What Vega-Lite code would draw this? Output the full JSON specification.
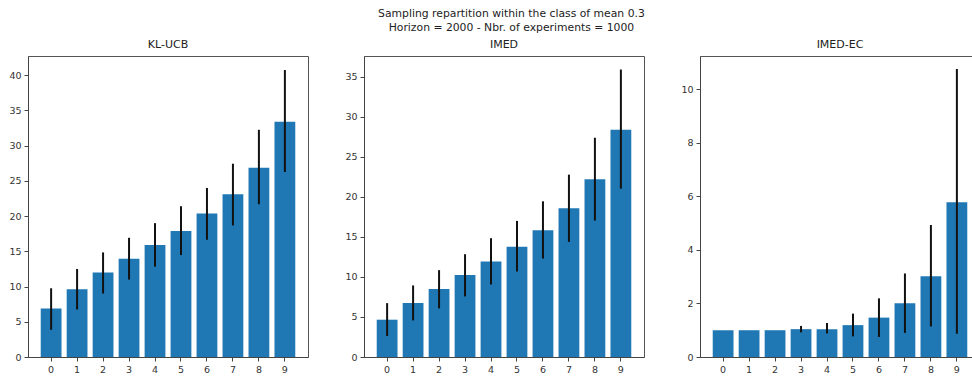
{
  "$schema": "https://vega.github.io/schema/vega-lite/v6.json",
  "padding": {"left": 8, "top": 8, "right": 0, "bottom": 5},
  "background": "white",
  "bounds": "flush",
  "spacing": 56,
  "title": {
    "text": ["Sampling repartition within the class of mean 0.3", "Horizon = 2000 - Nbr. of experiments = 1000"],
    "anchor": "middle",
    "font": "DejaVu Sans",
    "fontSize": 10.8,
    "fontWeight": "normal",
    "color": "#222",
    "lineHeight": 13.5,
    "dx": 17,
    "offset": 6
  },
  "datasets": {
    "klucb": [
      {"arm": 0, "mean": 6.88, "lo": 3.86, "hi": 9.75},
      {"arm": 1, "mean": 9.61, "lo": 6.74, "hi": 12.49},
      {"arm": 2, "mean": 11.97, "lo": 9.0, "hi": 14.84},
      {"arm": 3, "mean": 13.95, "lo": 10.98, "hi": 16.91},
      {"arm": 4, "mean": 15.88, "lo": 12.82, "hi": 18.99},
      {"arm": 5, "mean": 17.86, "lo": 14.46, "hi": 21.39},
      {"arm": 6, "mean": 20.35, "lo": 16.63, "hi": 23.98},
      {"arm": 7, "mean": 23.09, "lo": 18.66, "hi": 27.42},
      {"arm": 8, "mean": 26.86, "lo": 21.67, "hi": 32.23},
      {"arm": 9, "mean": 33.36, "lo": 26.24, "hi": 40.71}
    ],
    "imed": [
      {"arm": 0, "mean": 4.66, "lo": 2.62, "hi": 6.73},
      {"arm": 1, "mean": 6.73, "lo": 4.57, "hi": 8.94},
      {"arm": 2, "mean": 8.48, "lo": 6.07, "hi": 10.85},
      {"arm": 3, "mean": 10.23, "lo": 7.57, "hi": 12.84},
      {"arm": 4, "mean": 11.93, "lo": 9.06, "hi": 14.84},
      {"arm": 5, "mean": 13.76, "lo": 10.68, "hi": 17.0},
      {"arm": 6, "mean": 15.84, "lo": 12.3, "hi": 19.45},
      {"arm": 7, "mean": 18.58, "lo": 14.38, "hi": 22.78},
      {"arm": 8, "mean": 22.2, "lo": 17.04, "hi": 27.39},
      {"arm": 9, "mean": 28.39, "lo": 21.03, "hi": 35.91}
    ],
    "imedec": [
      {"arm": 0, "mean": 1.0, "lo": 1.0, "hi": 1.0},
      {"arm": 1, "mean": 1.0, "lo": 1.0, "hi": 1.0},
      {"arm": 2, "mean": 1.0, "lo": 1.0, "hi": 1.0},
      {"arm": 3, "mean": 1.04, "lo": 0.92, "hi": 1.16},
      {"arm": 4, "mean": 1.04, "lo": 0.88, "hi": 1.27},
      {"arm": 5, "mean": 1.19, "lo": 0.77, "hi": 1.62},
      {"arm": 6, "mean": 1.47, "lo": 0.75, "hi": 2.19},
      {"arm": 7, "mean": 2.01, "lo": 0.9, "hi": 3.12},
      {"arm": 8, "mean": 3.02, "lo": 1.14, "hi": 4.93},
      {"arm": 9, "mean": 5.78, "lo": 0.87, "hi": 10.75}
    ]
  },
  "config": {
    "font": "DejaVu Sans",
    "view": {"stroke": "#555", "strokeWidth": 1},
    "axis": {
      "grid": false,
      "domainColor": "#444",
      "tickColor": "#444",
      "tickSize": 4,
      "labelFont": "DejaVu Sans",
      "labelFontSize": 9.5,
      "labelColor": "#333",
      "labelPadding": 3,
      "labelOverlap": false,
      "title": null
    },
    "title": {"font": "DejaVu Sans", "fontSize": 11, "fontWeight": "normal", "color": "#222", "offset": 6, "baseline": "alphabetic"}
  },
  "hconcat": [
    {
      "width": 280, "height": 301,
      "title": "KL-UCB",
      "data": {"name": "klucb"},
      "encoding": {
        "x": {"field": "arm", "type": "ordinal", "scale": {"paddingInner": 0.2, "paddingOuter": 0.49}, "axis": {"labelAngle": 0}}
      },
      "layer": [
        {"mark": {"type": "bar", "color": "#1f77b4"},
         "encoding": {"y": {"field": "mean", "type": "quantitative", "scale": {"domain": [0, 42.7], "nice": false}, "axis": {"values": [0,5,10,15,20,25,30,35,40]}}}},
        {"mark": {"type": "rule", "color": "#111", "strokeWidth": 2},
         "encoding": {"y": {"field": "lo", "type": "quantitative", "axis": {"values": [0,5,10,15,20,25,30,35,40]}}, "y2": {"field": "hi"}}}
      ]
    },
    {
      "width": 280, "height": 301,
      "title": "IMED",
      "data": {"name": "imed"},
      "encoding": {
        "x": {"field": "arm", "type": "ordinal", "scale": {"paddingInner": 0.2, "paddingOuter": 0.49}, "axis": {"labelAngle": 0}}
      },
      "layer": [
        {"mark": {"type": "bar", "color": "#1f77b4"},
         "encoding": {"y": {"field": "mean", "type": "quantitative", "scale": {"domain": [0, 37.6], "nice": false}, "axis": {"values": [0,5,10,15,20,25,30,35]}}}},
        {"mark": {"type": "rule", "color": "#111", "strokeWidth": 2},
         "encoding": {"y": {"field": "lo", "type": "quantitative", "axis": {"values": [0,5,10,15,20,25,30,35]}}, "y2": {"field": "hi"}}}
      ]
    },
    {
      "width": 280, "height": 301,
      "title": "IMED-EC",
      "data": {"name": "imedec"},
      "encoding": {
        "x": {"field": "arm", "type": "ordinal", "scale": {"paddingInner": 0.2, "paddingOuter": 0.49}, "axis": {"labelAngle": 0}}
      },
      "layer": [
        {"mark": {"type": "bar", "color": "#1f77b4"},
         "encoding": {"y": {"field": "mean", "type": "quantitative", "scale": {"domain": [0, 11.24], "nice": false}, "axis": {"values": [0,2,4,6,8,10]}}}},
        {"mark": {"type": "rule", "color": "#111", "strokeWidth": 2},
         "encoding": {"y": {"field": "lo", "type": "quantitative", "axis": {"values": [0,2,4,6,8,10]}}, "y2": {"field": "hi"}}}
      ]
    }
  ]
}
